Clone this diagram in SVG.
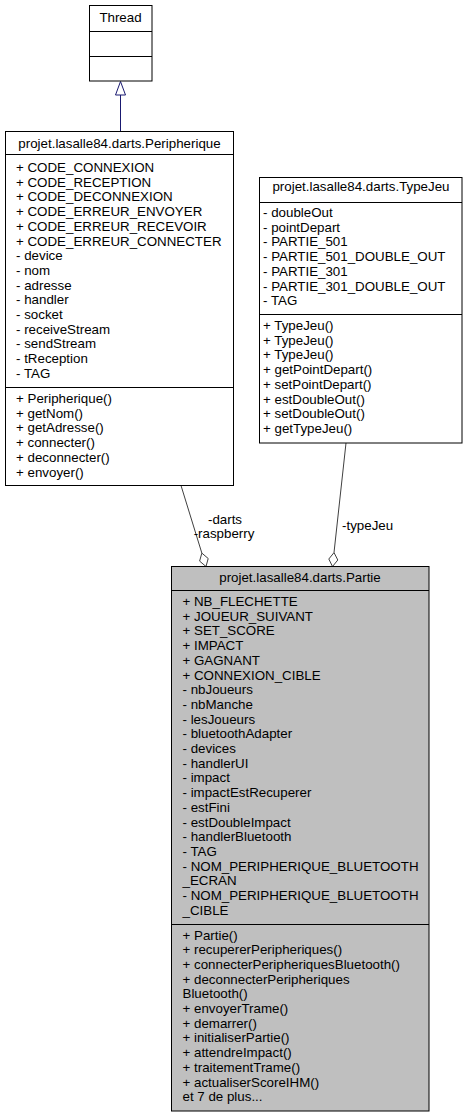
<svg xmlns="http://www.w3.org/2000/svg" width="469" height="1117" viewBox="0 0 469 1117">
<style>
text{font-family:"Liberation Sans",Arial,Helvetica,sans-serif;font-size:13.33px;fill:#000}
.t{text-anchor:middle}
.box{fill:#fff;stroke:#000;stroke-width:1}
.cur{fill:#bfbfbf;stroke:#000;stroke-width:1}
.sep{stroke:#000;stroke-width:1}
.inh{stroke:#191970;stroke-width:1;fill:none}
.use{stroke:#404040;stroke-width:1;fill:none}
.dia{stroke:#404040;stroke-width:1;fill:#fff}
</style>
<rect width="469" height="1117" fill="#fff"/>
<g id="connectors">
<line class="inh" x1="120.5" y1="131.5" x2="120.5" y2="95"/>
<polygon points="120.5,81.5 115.5,95 125.5,95" fill="#fff" stroke="#191970" stroke-width="1"/>
<line class="use" x1="181" y1="485.5" x2="201.85" y2="553.1"/>
<polygon class="dia" points="206,566.5 208.2,558.5 201.85,553.1 199.6,561.1"/>
<text x="225" y="523.5" class="t">-darts</text>
<text x="224" y="537.5" class="t">-raspberry</text>
<line class="use" x1="346" y1="443" x2="334" y2="552.6"/>
<polygon class="dia" points="332.5,566.5 337.8,560 334,552.6 328.8,559"/>
<text x="342" y="530">-typeJeu</text>
</g>
<g id="Thread">
<rect class="box" x="89.5" y="5.5" width="62.5" height="75.5"/>
<line class="sep" x1="89.5" y1="31.5" x2="152" y2="31.5"/>
<line class="sep" x1="89.5" y1="56.5" x2="152" y2="56.5"/>
<text x="120.5" y="21.5" class="t">Thread</text>
</g>
<g id="Peripherique">
<rect class="box" x="5.5" y="131.5" width="228" height="354"/>
<line class="sep" x1="5.5" y1="154.5" x2="233.5" y2="154.5"/>
<line class="sep" x1="5.5" y1="387.5" x2="233.5" y2="387.5"/>
<text x="119.5" y="148" class="t">projet.lasalle84.darts.Peripherique</text>
<text>
<tspan x="16" y="172">+ CODE_CONNEXION</tspan>
<tspan x="16" y="186.7">+ CODE_RECEPTION</tspan>
<tspan x="16" y="201.4">+ CODE_DECONNEXION</tspan>
<tspan x="16" y="216.1">+ CODE_ERREUR_ENVOYER</tspan>
<tspan x="16" y="230.8">+ CODE_ERREUR_RECEVOIR</tspan>
<tspan x="16" y="245.5">+ CODE_ERREUR_CONNECTER</tspan>
<tspan x="16" y="260.2">- device</tspan>
<tspan x="16" y="274.9">- nom</tspan>
<tspan x="16" y="289.6">- adresse</tspan>
<tspan x="16" y="304.3">- handler</tspan>
<tspan x="16" y="319">- socket</tspan>
<tspan x="16" y="333.7">- receiveStream</tspan>
<tspan x="16" y="348.4">- sendStream</tspan>
<tspan x="16" y="363.1">- tReception</tspan>
<tspan x="16" y="377.8">- TAG</tspan>
</text>
<text>
<tspan x="16" y="403">+ Peripherique()</tspan>
<tspan x="16" y="417.7">+ getNom()</tspan>
<tspan x="16" y="432.4">+ getAdresse()</tspan>
<tspan x="16" y="447.1">+ connecter()</tspan>
<tspan x="16" y="461.8">+ deconnecter()</tspan>
<tspan x="16" y="476.5">+ envoyer()</tspan>
</text>
</g>
<g id="TypeJeu">
<rect class="box" x="259.5" y="177.5" width="202.5" height="265.5"/>
<line class="sep" x1="259.5" y1="202.5" x2="462" y2="202.5"/>
<line class="sep" x1="259.5" y1="314.5" x2="462" y2="314.5"/>
<text x="361" y="191" class="t">projet.lasalle84.darts.TypeJeu</text>
<text>
<tspan x="263" y="217">- doubleOut</tspan>
<tspan x="263" y="231.7">- pointDepart</tspan>
<tspan x="263" y="246.4">- PARTIE_501</tspan>
<tspan x="263" y="261.1">- PARTIE_501_DOUBLE_OUT</tspan>
<tspan x="263" y="275.8">- PARTIE_301</tspan>
<tspan x="263" y="290.5">- PARTIE_301_DOUBLE_OUT</tspan>
<tspan x="263" y="305.2">- TAG</tspan>
</text>
<text>
<tspan x="263" y="330">+ TypeJeu()</tspan>
<tspan x="263" y="344.7">+ TypeJeu()</tspan>
<tspan x="263" y="359.4">+ TypeJeu()</tspan>
<tspan x="263" y="374.1">+ getPointDepart()</tspan>
<tspan x="263" y="388.8">+ setPointDepart()</tspan>
<tspan x="263" y="403.5">+ estDoubleOut()</tspan>
<tspan x="263" y="418.2">+ setDoubleOut()</tspan>
<tspan x="263" y="432.9">+ getTypeJeu()</tspan>
</text>
</g>
<g id="Partie">
<rect class="cur" x="171.5" y="566.5" width="257.5" height="544.5"/>
<line class="sep" x1="171.5" y1="590.5" x2="429" y2="590.5"/>
<line class="sep" x1="171.5" y1="924.5" x2="429" y2="924.5"/>
<text x="300" y="582" class="t">projet.lasalle84.darts.Partie</text>
<text>
<tspan x="182.5" y="606">+ NB_FLECHETTE</tspan>
<tspan x="182.5" y="620.7">+ JOUEUR_SUIVANT</tspan>
<tspan x="182.5" y="635.4">+ SET_SCORE</tspan>
<tspan x="182.5" y="650.1">+ IMPACT</tspan>
<tspan x="182.5" y="664.8">+ GAGNANT</tspan>
<tspan x="182.5" y="679.5">+ CONNEXION_CIBLE</tspan>
<tspan x="182.5" y="694.2">- nbJoueurs</tspan>
<tspan x="182.5" y="708.9">- nbManche</tspan>
<tspan x="182.5" y="723.6">- lesJoueurs</tspan>
<tspan x="182.5" y="738.3">- bluetoothAdapter</tspan>
<tspan x="182.5" y="753">- devices</tspan>
<tspan x="182.5" y="767.7">- handlerUI</tspan>
<tspan x="182.5" y="782.4">- impact</tspan>
<tspan x="182.5" y="797.1">- impactEstRecuperer</tspan>
<tspan x="182.5" y="811.8">- estFini</tspan>
<tspan x="182.5" y="826.5">- estDoubleImpact</tspan>
<tspan x="182.5" y="841.2">- handlerBluetooth</tspan>
<tspan x="182.5" y="855.9">- TAG</tspan>
<tspan x="182.5" y="870.6">- NOM_PERIPHERIQUE_BLUETOOTH</tspan>
<tspan x="182.5" y="885.3">_ECRAN</tspan>
<tspan x="182.5" y="900">- NOM_PERIPHERIQUE_BLUETOOTH</tspan>
<tspan x="182.5" y="914.7">_CIBLE</tspan>
</text>
<text>
<tspan x="182.5" y="939.5">+ Partie()</tspan>
<tspan x="182.5" y="954.2">+ recupererPeripheriques()</tspan>
<tspan x="182.5" y="968.9">+ connecterPeripheriquesBluetooth()</tspan>
<tspan x="182.5" y="983.6">+ deconnecterPeripheriques</tspan>
<tspan x="182.5" y="998.3">Bluetooth()</tspan>
<tspan x="182.5" y="1013">+ envoyerTrame()</tspan>
<tspan x="182.5" y="1027.7">+ demarrer()</tspan>
<tspan x="182.5" y="1042.4">+ initialiserPartie()</tspan>
<tspan x="182.5" y="1057.1">+ attendreImpact()</tspan>
<tspan x="182.5" y="1071.8">+ traitementTrame()</tspan>
<tspan x="182.5" y="1086.5">+ actualiserScoreIHM()</tspan>
<tspan x="182.5" y="1101.2">et 7 de plus...</tspan>
</text>
</g>
</svg>
